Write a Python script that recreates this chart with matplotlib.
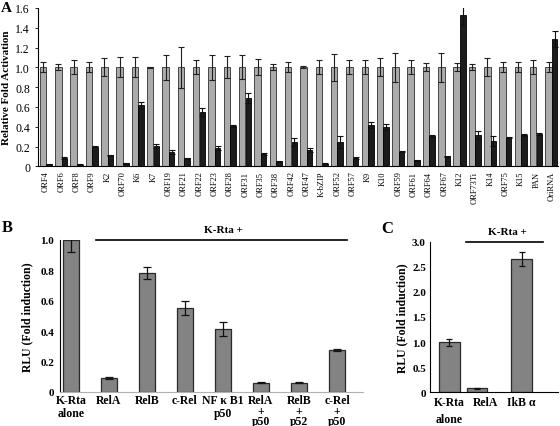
import matplotlib
matplotlib.use("Agg")
import matplotlib.pyplot as plt
import numpy as np

plt.rcParams["font.family"] = ["Liberation Serif", "DejaVu Serif"]

# Panel A: ORF activation, control (gray) vs. treated (black)
genes_a = ["ORF4", "ORF6", "ORF8", "ORF9", "K2", "ORF70", "K6", "K7", "ORF19",
           "ORF21", "ORF22", "ORF23", "ORF28", "ORF31", "ORF35", "ORF38",
           "ORF42", "ORF47", "K-bZIP", "ORF52", "ORF57", "K9", "K10", "ORF59",
           "ORF61", "ORF64", "ORF67", "K12", "ORF73Ti", "K14", "ORF75", "K15",
           "PAN", "OriRNA"]
ctrl_a = [1.0] * len(genes_a)
ctrl_err_a = [0.05, 0.03, 0.07, 0.05, 0.09, 0.10, 0.10, 0.005, 0.13, 0.21,
              0.07, 0.13, 0.11, 0.12, 0.08, 0.03, 0.05, 0.01, 0.07, 0.14,
              0.07, 0.07, 0.09, 0.15, 0.07, 0.04, 0.15, 0.04, 0.03, 0.09,
              0.05, 0.05, 0.07, 0.05]
rta_a = [0.02, 0.08, 0.015, 0.20, 0.11, 0.03, 0.62, 0.21, 0.15, 0.08,
         0.55, 0.19, 0.41, 0.69, 0.13, 0.05, 0.25, 0.17, 0.025, 0.25,
         0.08, 0.42, 0.40, 0.15, 0.06, 0.31, 0.10, 1.53, 0.32, 0.26,
         0.29, 0.32, 0.33, 1.285]
rta_err_a = [0.005, 0.01, 0.005, 0.005, 0.005, 0.005, 0.03, 0.02, 0.02, 0.005,
             0.04, 0.02, 0.01, 0.05, 0.01, 0.005, 0.04, 0.02, 0.005, 0.06,
             0.01, 0.03, 0.03, 0.005, 0.005, 0.01, 0.005, 0.10, 0.04, 0.05,
             0.005, 0.01, 0.01, 0.08]

# Panel B: NF-kB subunits
labels_b = ["K-Rta\nalone", "RelA", "RelB", "c-Rel", "NF \u03ba B1\np50",
            "RelA\n+\np50", "RelB\n+\np52", "c-Rel\n+\np50"]
vals_b = [1.0, 0.09, 0.78, 0.55, 0.415, 0.06, 0.06, 0.275]
err_b = [0.08, 0.005, 0.04, 0.045, 0.045, 0.005, 0.005, 0.004]

# Panel C: IkB alpha
labels_c = ["K-Rta\nalone", "RelA", "IkB \u03b1"]
vals_c = [1.0, 0.08, 2.66]
err_c = [0.07, 0.01, 0.14]


def fmt_tick(v):
    return "0" if abs(v) < 1e-9 else f"{v:.1f}"


def clean_axes(ax):
    ax.spines["top"].set_visible(False)
    ax.spines["right"].set_visible(False)


fig = plt.figure(figsize=(5.6, 4.27), dpi=100)

# ---------- A ----------
axa = fig.add_axes([0.0673, 0.608, 0.9287, 0.371])
x = np.arange(len(genes_a))
axa.bar(x - 0.2, ctrl_a, width=0.42, color="#ababab", edgecolor="#303030", linewidth=0.6)
axa.bar(x + 0.2, rta_a, width=0.36, color="#1c1c1c", edgecolor="black", linewidth=0.6)
axa.errorbar(x - 0.2, ctrl_a, yerr=ctrl_err_a, fmt="none", ecolor="#202020",
             elinewidth=0.8, capsize=2.5, capthick=0.8)
axa.errorbar(x + 0.2, rta_a, yerr=rta_err_a, fmt="none", ecolor="#101010",
             elinewidth=0.8, capsize=2.5, capthick=0.8)
axa.set_xlim(-0.55, 33.4)
axa.set_ylim(0, 1.6)
yt = np.arange(0, 1.61, 0.2)
axa.set_yticks(yt)
axa.set_yticklabels([fmt_tick(v) for v in yt], fontsize=8.5)
axa.set_xticks(x)
axa.set_xticklabels(genes_a, rotation=90, fontsize=6)
axa.tick_params(axis="x", length=0, pad=3)
axa.tick_params(axis="y", length=2.5, width=0.6, pad=3)
axa.set_ylabel("Relative Fold Activation", fontsize=8, fontweight="bold", labelpad=3)
clean_axes(axa)
fig.text(0.002, 0.979, "A", fontsize=11, fontweight="bold", va="center")

# ---------- B ----------
axb = fig.add_axes([0.107, 0.0803, 0.541, 0.3553])
xb = np.arange(len(vals_b))
axb.bar(xb, vals_b, width=0.4, color="#838383", edgecolor="#2a2a2a", linewidth=0.9)
axb.errorbar(xb, vals_b, yerr=err_b, fmt="none", ecolor="#111111",
             elinewidth=0.9, capsize=3, capthick=0.9)
axb.set_xlim(-0.29, 7.68)
axb.set_ylim(0, 1.0)
ytb = np.arange(0, 1.01, 0.2)
axb.set_yticks(ytb)
axb.set_yticklabels([fmt_tick(v) for v in ytb], fontsize=8, fontweight="bold")
axb.set_xticks(xb)
axb.set_xticklabels(labels_b, fontsize=8.5, fontweight="bold")
for lab in axb.get_xticklabels():
    n_lines = lab.get_text().count("\n") + 1
    lab.set_linespacing(0.8 if n_lines == 3 else 1.05)
axb.tick_params(axis="x", length=0, pad=2)
axb.tick_params(axis="y", length=0, pad=4)
axb.spines["bottom"].set_color("#b0b0b0")
axb.set_ylabel("RLU (Fold induction)", fontsize=8.5, fontweight="bold", labelpad=5)
clean_axes(axb)
axb.plot([0.66, 7.26], [1.0, 1.0], color="black", linewidth=1.2, clip_on=False)
axb.text(4.0, 1.07, "K-Rta +", fontsize=8, fontweight="bold", ha="center", va="center")
fig.text(0.004, 0.466, "B", fontsize=12, fontweight="bold", va="center")

# ---------- C ----------
axc = fig.add_axes([0.768, 0.0789, 0.228, 0.353])
xc = np.array([0, 1, 2.6])
axc.bar(xc, vals_c, width=0.75, color="#838383", edgecolor="#2a2a2a", linewidth=0.9)
axc.errorbar(xc, vals_c, yerr=err_c, fmt="none", ecolor="#111111",
             elinewidth=0.9, capsize=2.5, capthick=0.9)
axc.set_xlim(-0.68, 3.89)
axc.set_ylim(0, 3.0)
ytc = np.arange(0, 3.01, 0.5)
axc.set_yticks(ytc)
axc.set_yticklabels([fmt_tick(v) for v in ytc], fontsize=8, fontweight="bold")
axc.set_xticks(xc + np.array([0, 0.3, 0]))
axc.set_xticklabels(labels_c, fontsize=8.5, fontweight="bold", linespacing=1.5)
axc.tick_params(axis="x", length=0, pad=3)
axc.tick_params(axis="y", length=0, pad=3)
axc.set_ylabel("RLU (Fold induction)", fontsize=8.5, fontweight="bold", labelpad=3)
clean_axes(axc)
axc.plot([0.6, 3.36], [3.0, 3.0], color="black", linewidth=1.2, clip_on=False)
axc.text(2.07, 3.2, "K-Rta +", fontsize=8, fontweight="bold", ha="center", va="center")
fig.text(0.68, 0.463, "C", fontsize=12, fontweight="bold", va="center")

fig.savefig("out.png", dpi=100)
